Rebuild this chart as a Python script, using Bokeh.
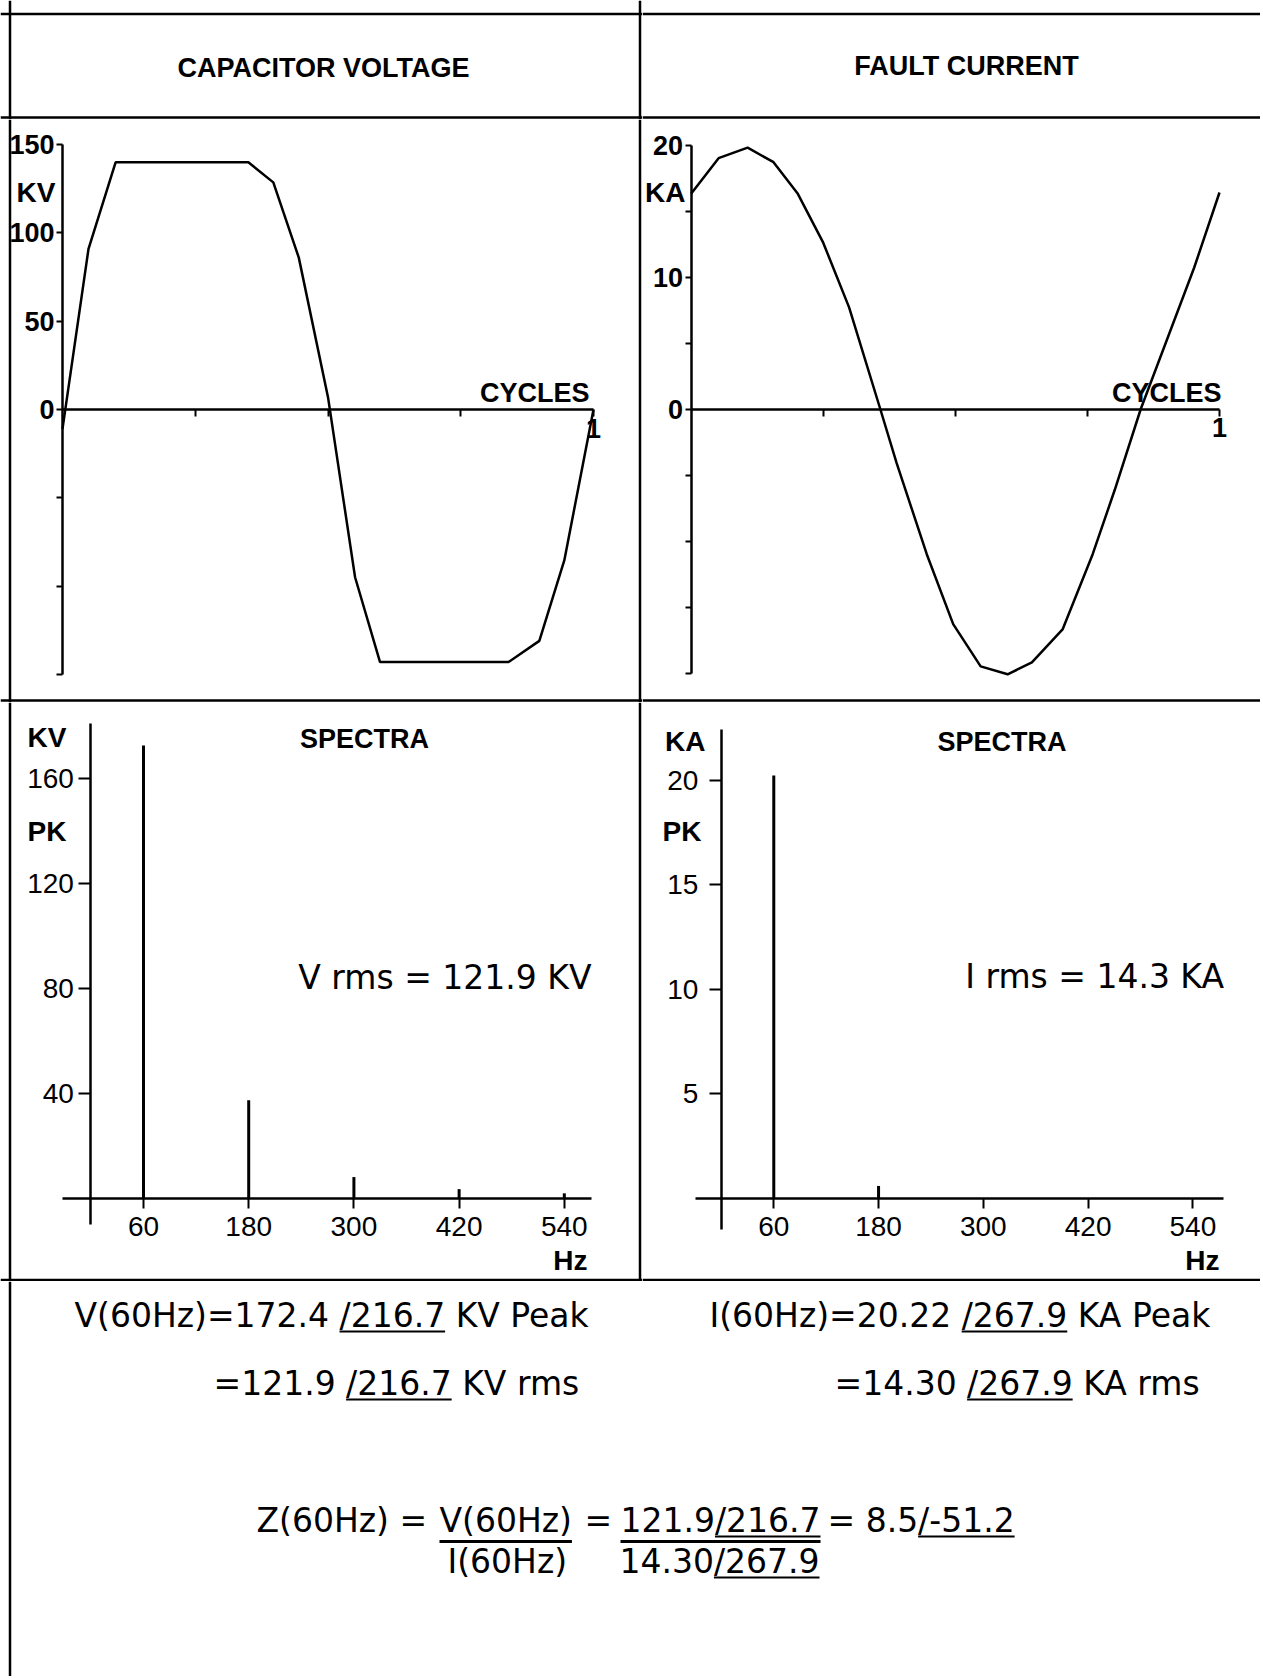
from bokeh.plotting import figure
from bokeh.models import Range1d, LinearAxis, FixedTicker, Label, Span
from bokeh.layouts import column, row
from bokeh.embed import file_html
from bokeh.resources import INLINE

# ---------------- data ----------------
cycles_v = [0.0, 0.049, 0.100, 0.350, 0.397, 0.445, 0.500, 0.551, 0.598, 0.840, 0.898, 0.945, 1.000]
capacitor_kv = [-11, 91, 140, 140, 128.6, 86, 7, -95, -143, -143, -131, -85.5, 0]

cycles_i = [0.0, 0.052, 0.107, 0.156, 0.202, 0.250, 0.299, 0.358, 0.389, 0.446,
            0.496, 0.548, 0.599, 0.645, 0.703, 0.760, 0.802, 0.851, 0.952, 1.000]
fault_ka = [16.3, 19.0, 19.8, 18.7, 16.3, 12.6, 7.7, 0.0, -4.1, -11.0,
            -16.3, -19.5, -20.1, -19.2, -16.7, -11.0, -6.1, 0.0, 10.7, 16.4]

harmonics_hz = [60, 180, 300, 420, 540]
v_spectrum_kv = [172.4, 37.4, 8.2, 3.6, 2.0]
i_spectrum_ka = [20.22, 0.6, 0.0, 0.0, 0.0]
spectrum_base = [0, 0, 0, 0, 0]

kv_ticks = [-150, -100, -50, 0, 50, 100, 150]
kv_tick_labels = ["", "", "", "0", "50", "100", "150"]
ka_ticks = [-20, -15, -10, -5, 0, 5, 10, 15, 20]
ka_tick_labels = ["", "", "", "", "0", "", "10", "", "20"]
cycle_ticks = [0.25, 0.5, 0.75, 1.0]
cycle_tick_labels = ["", "", "", "1"]
kv_spec_ticks = [40, 80, 120, 160]
ka_spec_ticks = [5, 10, 15, 20]

HELV = "Liberation Sans"
DEJA = "DejaVu Sans"
INK = "black"


def panel(x0, x1, y0, y1, xa=0.0, xb=1.0, ya=0.0, yb=-1.0):
    """Figure occupying page box (x0..x1, y0..y1); page_x = xa + xb*d, page_y = ya - yb*d."""
    def dx(px):
        return (px - xa) / xb

    def dy(py):
        return (ya - py) / yb

    p = figure(width=x1 - x0, height=y1 - y0,
               x_range=Range1d(dx(x0), dx(x1)), y_range=Range1d(dy(y1), dy(y0)),
               x_axis_type=None, y_axis_type=None, toolbar_location=None,
               output_backend="svg", min_border=0, outline_line_color=None,
               background_fill_color="white", border_fill_color="white")
    return p, dx, dy


def vline(p, dx, px):
    p.add_layout(Span(location=dx(px), dimension="height", line_color=INK, line_width=2.5))


def hline(p, dy, py):
    p.add_layout(Span(location=dy(py), dimension="width", line_color=INK, line_width=2.5))


def label(p, x, y, text, font=HELV, size=26, style="bold", align="left", baseline="middle"):
    p.add_layout(Label(x=x, y=y, text=text, text_font=font, text_font_size=f"{size}px",
                       text_font_style=style, text_align=align, text_baseline=baseline,
                       text_color=INK))


def style_axis(ax, size, standoff, tick_out, weight="bold"):
    ax.axis_line_color = INK
    ax.axis_line_width = 2.5
    ax.major_tick_line_color = INK
    ax.major_tick_line_width = 2
    ax.major_tick_in = 0
    ax.major_tick_out = tick_out
    ax.minor_tick_in = 0
    ax.minor_tick_out = 0
    ax.major_label_text_font = HELV
    ax.major_label_text_font_size = f"{size}px"
    ax.major_label_text_font_style = weight
    ax.major_label_text_color = INK
    ax.major_label_standoff = standoff


# ---------------- page geometry (page has no margin) ----------------
XL, XM, XR = 0, 642, 1260
Y0, Y1, Y2, Y3, Y4 = 0, 119, 702, 1281, 1676

# ---------------- title row ----------------
tl, dxa, dya = panel(XL, XM, Y0, Y1)
hline(tl, dya, 13.5); hline(tl, dya, 117); vline(tl, dxa, 9.5); vline(tl, dxa, 639.5)
label(tl, dxa(323), dya(67), "CAPACITOR VOLTAGE", size=27, align="center")

tr, dxb, dyb = panel(XM, XR, Y0, Y1)
hline(tr, dyb, 13.5); hline(tr, dyb, 117)
label(tr, dxb(966), dyb(65), "FAULT CURRENT", size=27, align="center")

# ---------------- waveform row ----------------
wl, dxc, dyc = panel(XL, XM, Y1, Y2, 62, 531, 409, 1.766)
vline(wl, dxc, 9.5); vline(wl, dxc, 639.5); hline(wl, dyc, 700)
ya = LinearAxis(fixed_location=0, ticker=FixedTicker(ticks=kv_ticks), bounds=(-150, 150),
                major_label_overrides=dict(zip(kv_ticks, kv_tick_labels)))
style_axis(ya, 27, 2, 6)
wl.add_layout(ya, "left")
xa = LinearAxis(fixed_location=0, ticker=FixedTicker(ticks=cycle_ticks), bounds=(0, 1),
                major_label_overrides=dict(zip(cycle_ticks, cycle_tick_labels)))
style_axis(xa, 27, 2, 7)
wl.add_layout(xa, "below")
wl.line(cycles_v, capacitor_kv, line_color=INK, line_width=2.5)
label(wl, dxc(55), dyc(192), "KV", size=28, align="right")
label(wl, dxc(589), dyc(392), "CYCLES", size=27, align="right")

wr, dxd, dyd = panel(XM, XR, Y1, Y2, 690.6, 528.4, 408.5, 13.2)
hline(wr, dyd, 700)
yb = LinearAxis(fixed_location=0, ticker=FixedTicker(ticks=ka_ticks), bounds=(-20, 20),
                major_label_overrides=dict(zip(ka_ticks, ka_tick_labels)))
style_axis(yb, 27, 2, 6)
wr.add_layout(yb, "left")
xb = LinearAxis(fixed_location=0, ticker=FixedTicker(ticks=cycle_ticks), bounds=(0, 1),
                major_label_overrides=dict(zip(cycle_ticks, cycle_tick_labels)))
style_axis(xb, 27, 2, 7)
wr.add_layout(xb, "below")
wr.line(cycles_i, fault_ka, line_color=INK, line_width=2.5)
label(wr, dxd(685), dyd(192), "KA", size=28, align="right")
label(wr, dxd(1221), dyd(392), "CYCLES", size=27, align="right")

# ---------------- spectra row ----------------
sl, dxe, dye = panel(XL, XM, Y2, Y3, 90.4, 0.8767, 1198.1, 2.6275)
vline(sl, dxe, 9.5); vline(sl, dxe, 639.5); hline(sl, dye, 1279.5)
yc = LinearAxis(fixed_location=0, ticker=FixedTicker(ticks=kv_spec_ticks), bounds=(-10, 181))
style_axis(yc, 28, 5, 12, "normal")
sl.add_layout(yc, "left")
xc = LinearAxis(fixed_location=0, ticker=FixedTicker(ticks=harmonics_hz), bounds=(-32, 571))
style_axis(xc, 28, 8, 10, "normal")
sl.add_layout(xc, "below")
sl.segment(x0=harmonics_hz, y0=spectrum_base, x1=harmonics_hz, y1=v_spectrum_kv,
           line_color=INK, line_width=3)
label(sl, dxe(66), dye(737), "KV", size=28, align="right")
label(sl, dxe(66), dye(831), "PK", size=28, align="right")
label(sl, dxe(364), dye(738), "SPECTRA", size=27, align="center")
label(sl, dxe(591), dye(977), "V rms = 121.9 KV", font=DEJA, size=33, style="normal", align="right")
label(sl, dxe(587), dye(1260), "Hz", size=28, align="right")

sr, dxf, dyf = panel(XM, XR, Y2, Y3, 720.9, 0.8731, 1198, 20.92)
hline(sr, dyf, 1279.5)
yd = LinearAxis(fixed_location=0, ticker=FixedTicker(ticks=ka_spec_ticks), bounds=(-1.5, 22.4))
style_axis(yd, 28, 11, 12, "normal")
sr.add_layout(yd, "left")
xd = LinearAxis(fixed_location=0, ticker=FixedTicker(ticks=harmonics_hz), bounds=(-30, 574.6))
style_axis(xd, 28, 8, 10, "normal")
sr.add_layout(xd, "below")
sr.segment(x0=harmonics_hz, y0=spectrum_base, x1=harmonics_hz, y1=i_spectrum_ka,
           line_color=INK, line_width=3)
label(sr, dxf(705), dyf(741), "KA", size=28, align="right")
label(sr, dxf(701), dyf(831), "PK", size=28, align="right")
label(sr, dxf(1001.5), dyf(741), "SPECTRA", size=27, align="center")
label(sr, dxf(1223.5), dyf(976), "I rms = 14.3 KA", font=DEJA, size=33, style="normal", align="right")
label(sr, dxf(1219), dyf(1260), "Hz", size=28, align="right")

# ---------------- phasor summary (text; angle notation underlined) ----------------
SIZE = 33
# DejaVu Sans advance widths (em) of the characters used, to place the underlines
ADV = {"0": .636, "1": .636, "2": .636, "3": .636, "4": .636, "5": .636, "6": .636,
       "7": .636, "8": .636, "9": .636, ".": .318, " ": .318, "/": .337, "(": .390,
       ")": .390, "=": .838, "-": .361, "V": .684, "I": .295, "Z": .685, "H": .752,
       "z": .525, "K": .656, "A": .684, "P": .603, "e": .615, "a": .613, "k": .579,
       "r": .411, "m": .974, "s": .521}


def tw(s):
    return sum(ADV[c] for c in s) * SIZE


# (text before, underlined angle part, text after, left x, centre y, fraction bar?)
summary = [
    ("V(60Hz)=172.4 ", "/216.7", " KV Peak", 74, 1315, False),
    ("I(60Hz)=20.22 ", "/267.9", " KA Peak", 709, 1315, False),
    ("=121.9 ", "/216.7", " KV rms", 213, 1383, False),
    ("=14.30 ", "/267.9", " KA rms", 834, 1383, False),
    ("Z(60Hz) =", "", "", 256, 1520, False),
    ("V(60Hz)", "", "", 439, 1520, True),
    ("=", "", "", 584, 1520, False),
    ("121.9", "/216.7", "", 620, 1520, True),
    ("= 8.5", "/-51.2", "", 827, 1520, False),
    ("I(60Hz)", "", "", 447, 1561, False),
    ("14.30", "/267.9", "", 619, 1561, False),
]

bt, dxg, dyg = panel(XL, XR, Y3, Y4)
vline(bt, dxg, 9.5)
ux0, ux1, uy = [], [], []
bx0, bx1, by = [], [], []
for pre, ang, post, px, py, bar in summary:
    label(bt, dxg(px), dyg(py), pre + ang + post, font=DEJA, size=SIZE, style="normal")
    if ang:
        ux0.append(dxg(px + tw(pre)))
        ux1.append(dxg(px + tw(pre + ang)))
        uy.append(dyg(py + 16))
    if bar:
        bx0.append(dxg(px))
        bx1.append(dxg(px + tw(pre + ang + post)))
        by.append(dyg(py + 21))
bt.segment(x0=ux0, y0=uy, x1=ux1, y1=uy, line_color=INK, line_width=2)
bt.segment(x0=bx0, y0=by, x1=bx1, y1=by, line_color=INK, line_width=3)

layout = column(row(tl, tr, spacing=0), row(wl, wr, spacing=0),
                row(sl, sr, spacing=0), bt, spacing=0)

with open("out.html", "w") as f:
    f.write(file_html(layout, INLINE, "Capacitor voltage and fault current"))
